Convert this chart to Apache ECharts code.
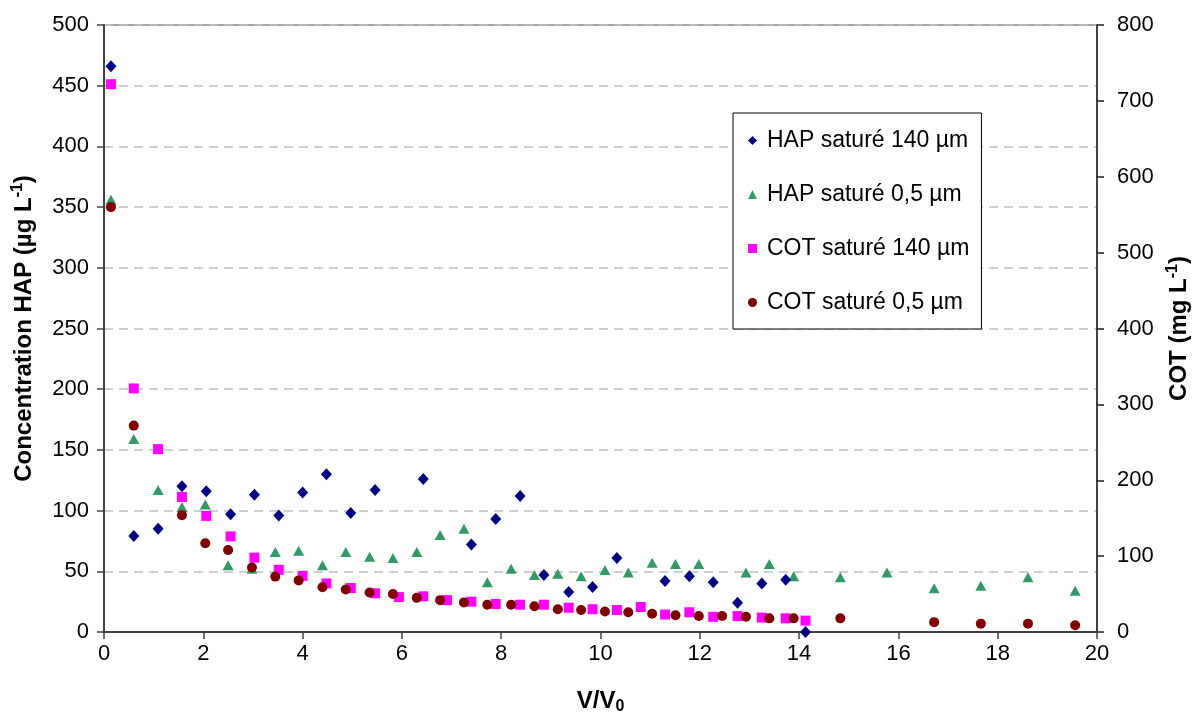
<!DOCTYPE html>
<html>
<head>
<meta charset="utf-8">
<script src="https://cdn.jsdelivr.net/npm/echarts@6/dist/echarts.min.js"></script>
<style>
  html, body { margin: 0; padding: 0; background: #ffffff; }
  #chart { width: 1193px; height: 718px; }
</style>
</head>
<body>
<div id="chart"></div>
<script>
// ---- Data ----
var seriesNames = ['HAP saturé 140 µm', 'HAP saturé 0,5 µm', 'COT saturé 140 µm', 'COT saturé 0,5 µm'];

// HAP saturé 140 µm  [V/V0, µg/L]  (left axis)
var hap140 = [
  [0.14, 466], [0.60, 79], [1.09, 85], [1.57, 120], [2.06, 116], [2.55, 97],
  [3.03, 113], [3.52, 96], [4.00, 115], [4.48, 130], [4.97, 98], [5.46, 117],
  [6.43, 126], [7.40, 72], [7.89, 93], [8.38, 112], [8.86, 47], [9.36, 33],
  [9.84, 37], [10.33, 61], [11.30, 42], [11.79, 46], [12.27, 41], [12.76, 24],
  [13.25, 40], [13.73, 43], [14.13, 0]
];

// HAP saturé 0,5 µm  [V/V0, µg/L]  (left axis)
var hap05 = [
  [0.14, 356], [0.60, 159], [1.09, 117], [1.57, 103], [2.04, 105], [2.50, 55],
  [2.98, 52], [3.45, 66], [3.92, 67], [4.40, 55], [4.87, 66], [5.35, 62],
  [5.82, 61], [6.30, 66], [6.77, 80], [7.25, 85], [7.72, 41], [8.20, 52],
  [8.67, 47], [9.14, 48], [9.61, 46], [10.09, 51], [10.56, 49], [11.04, 57],
  [11.51, 56], [11.98, 56], [12.93, 49], [13.40, 56], [13.89, 46], [14.83, 45],
  [15.77, 49], [16.72, 36], [17.66, 38], [18.61, 45], [19.56, 34]
];

// COT saturé 140 µm  [V/V0, mg/L]  (right axis)
var cot140 = [
  [0.14, 722], [0.60, 321], [1.09, 241], [1.57, 178], [2.06, 153], [2.55, 126],
  [3.03, 98], [3.52, 82], [4.00, 74], [4.48, 64], [4.97, 58], [5.46, 51],
  [5.94, 46], [6.43, 47], [6.91, 42], [7.40, 40], [7.89, 37], [8.38, 36],
  [8.86, 36], [9.36, 32], [9.84, 30], [10.33, 29], [10.81, 33], [11.30, 23],
  [11.79, 26], [12.27, 20], [12.76, 21], [13.25, 19], [13.73, 18], [14.13, 15]
];

// COT saturé 0,5 µm  [V/V0, mg/L]  (right axis)
var cot05 = [
  [0.14, 560], [0.60, 272], [1.57, 154], [2.04, 117], [2.50, 108], [2.98, 85],
  [3.45, 73], [3.92, 68], [4.40, 59], [4.87, 56], [5.35, 52], [5.82, 50],
  [6.30, 45], [6.77, 42], [7.25, 39], [7.72, 36], [8.20, 36], [8.67, 34],
  [9.14, 30], [9.61, 29], [10.09, 27], [10.56, 26], [11.04, 24], [11.51, 22],
  [11.98, 21], [12.45, 21], [12.93, 20], [13.40, 18], [13.89, 18], [14.83, 18],
  [16.72, 13], [17.66, 11], [18.61, 11], [19.56, 9]
];

// Axis scales
var xMin = 0, xMax = 20, xStep = 2;
var yLeftMin = 0, yLeftMax = 500, yLeftStep = 50;
var yRightMin = 0, yRightMax = 800, yRightStep = 100;

// ---- Chart ----
var FONT = 'Liberation Sans, Arial, sans-serif';
var chart = echarts.init(document.getElementById('chart'), null, { renderer: 'canvas' });

function titleRich(mainSize, smallSize) {
  return {
    b: { fontFamily: FONT, fontSize: mainSize, fontWeight: 'bold', color: '#000', lineHeight: 28, verticalAlign: 'middle' },
    sup: { fontFamily: FONT, fontSize: smallSize, fontWeight: 'bold', color: '#000', lineHeight: 28, verticalAlign: 'top', padding: [0, 0, 9, 0] },
    sub: { fontFamily: FONT, fontSize: smallSize, fontWeight: 'bold', color: '#000', lineHeight: 28, verticalAlign: 'bottom', padding: [9, 0, 0, 0] }
  };
}

var option = {
  backgroundColor: '#ffffff',
  animation: false,
  textStyle: { fontFamily: FONT },
  grid: {
    left: 104, right: 96, top: 25, bottom: 86,
    containLabel: false,
    outerBoundsMode: 'none',
    show: true, borderColor: '#a6a6a6', borderWidth: 2, backgroundColor: 'transparent'
  },
  legend: {
    orient: 'vertical',
    left: 733, top: 113,
    padding: [16, 12, 15, 15],
    itemGap: 31,
    itemWidth: 9, itemHeight: 9,
    borderColor: '#000000', borderWidth: 1,
    backgroundColor: '#ffffff',
    textStyle: { fontFamily: FONT, fontSize: 23, color: '#000000', padding: [0, 0, 0, 5] },
    data: seriesNames
  },
  xAxis: {
    type: 'value',
    min: xMin, max: xMax, interval: xStep,
    name: '{b|V/V}{sub|0}',
    nameLocation: 'middle',
    nameGap: 55,
    nameTextStyle: { rich: titleRich(24, 16) },
    axisLine: { show: true, onZero: false, lineStyle: { color: '#404040', width: 2 } },
    axisTick: { show: true, inside: false, length: 7, lineStyle: { color: '#404040', width: 1.5 } },
    axisLabel: { fontFamily: FONT, fontSize: 22, color: '#000', margin: 11 },
    splitLine: { show: false }
  },
  yAxis: [
    {
      type: 'value',
      position: 'left',
      min: yLeftMin, max: yLeftMax, interval: yLeftStep,
      name: '{b|Concentration HAP (µg L}{sup|-1}{b|)}',
      nameLocation: 'middle',
      nameRotate: 90,
      nameGap: 66,
      nameTextStyle: { rich: titleRich(24, 16) },
      axisLine: { show: true, onZero: false, lineStyle: { color: '#404040', width: 2 } },
      axisTick: { show: true, inside: false, length: 7, lineStyle: { color: '#404040', width: 1.5 } },
      axisLabel: { fontFamily: FONT, fontSize: 22, color: '#000', margin: 15 },
      splitLine: { show: true, lineStyle: { color: '#c0c0c0', width: 1.5, type: [9, 6] } }
    },
    {
      type: 'value',
      position: 'right',
      min: yRightMin, max: yRightMax, interval: yRightStep,
      name: '{b|COT (mg L}{sup|-1}{b|)}',
      nameLocation: 'middle',
      nameRotate: 90,
      nameGap: 68,
      nameTextStyle: { rich: titleRich(24, 16) },
      axisLine: { show: true, onZero: false, lineStyle: { color: '#202020', width: 1.5 } },
      axisTick: { show: true, inside: false, length: 7, lineStyle: { color: '#202020', width: 1.5 } },
      axisLabel: { fontFamily: FONT, fontSize: 22, color: '#000', margin: 20 },
      splitLine: { show: false }
    }
  ],
  series: [
    {
      name: seriesNames[0], type: 'scatter', yAxisIndex: 0,
      symbol: 'diamond', symbolSize: [11, 12],
      itemStyle: { color: '#000080', opacity: 1 },
      data: hap140, z: 4
    },
    {
      name: seriesNames[1], type: 'scatter', yAxisIndex: 0,
      symbol: 'triangle', symbolSize: [11, 10],
      itemStyle: { color: '#339966', opacity: 1 },
      data: hap05, z: 3
    },
    {
      name: seriesNames[2], type: 'scatter', yAxisIndex: 1,
      symbol: 'rect', symbolSize: 10,
      itemStyle: { color: '#ff00ff', opacity: 1 },
      data: cot140, z: 2
    },
    {
      name: seriesNames[3], type: 'scatter', yAxisIndex: 1,
      symbol: 'circle', symbolSize: 10,
      itemStyle: { color: '#800000', opacity: 1 },
      data: cot05, z: 5
    }
  ]
};

chart.setOption(option);
</script>
</body>
</html>
